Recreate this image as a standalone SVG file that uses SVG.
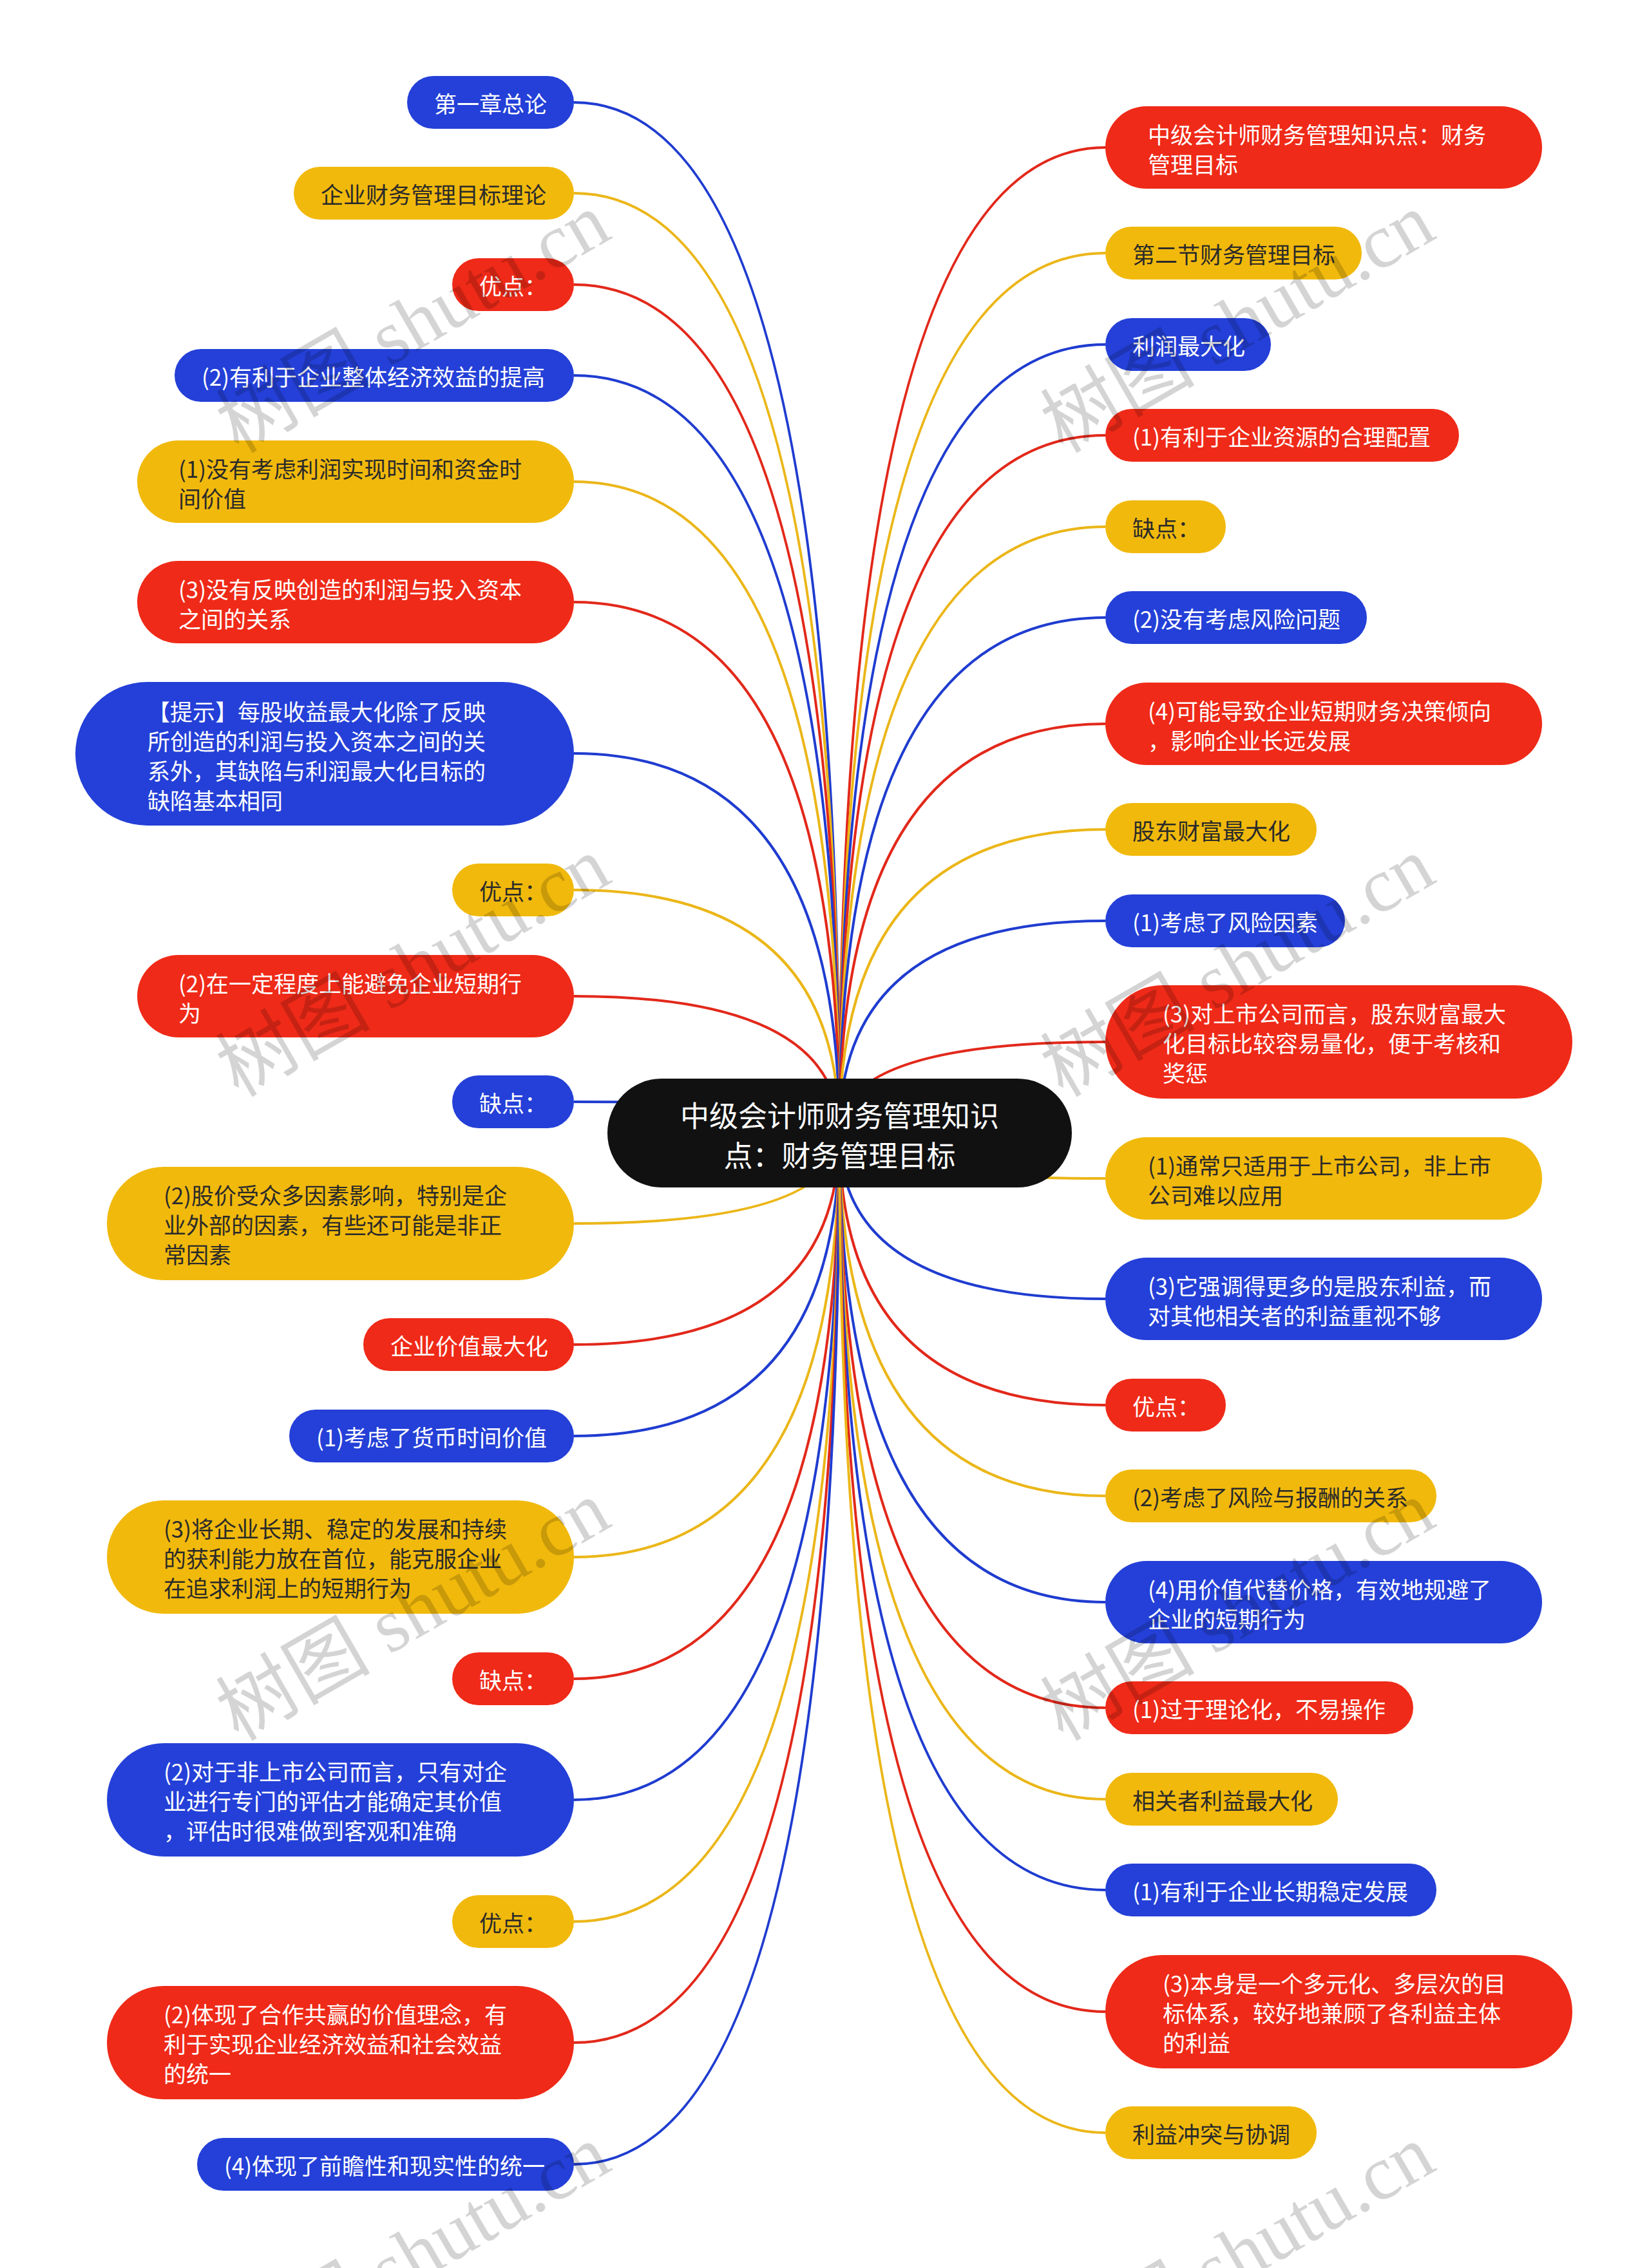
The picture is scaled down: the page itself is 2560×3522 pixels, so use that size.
<svg xmlns="http://www.w3.org/2000/svg" width="2560" height="3522" viewBox="0 0 2560 3522">
<style>
.t{font-family:"Noto Sans CJK SC","Noto Sans",sans-serif;font-size:35px;dominant-baseline:central}
.w{fill:#ffffff}
.d{fill:#2a2a2a}
.b{fill:#2440d8}
.r{fill:#ef2a18}
.y{fill:#f1b90c}
.lb{stroke:#1f3cd0}
.lr{stroke:#e2281a}
.ly{stroke:#ebb618}
#links path{fill:none;stroke-width:4}
.wm{font-family:"Liberation Serif","Noto Sans CJK SC",serif;font-size:120px;fill:#000;fill-opacity:0.17}
</style>
<rect width="2560" height="3522" fill="#ffffff"/>
<g id="links">
<path class="lb" d="M891 159 Q1303 159 1303 1760"/>
<path class="ly" d="M891 300 Q1303 300 1303 1760"/>
<path class="lr" d="M891 442 Q1303 442 1303 1760"/>
<path class="lb" d="M891 583 Q1303 583 1303 1760"/>
<path class="ly" d="M891 748 Q1303 748 1303 1760"/>
<path class="lr" d="M891 935 Q1303 935 1303 1760"/>
<path class="lb" d="M891 1170 Q1303 1170 1303 1760"/>
<path class="ly" d="M891 1382 Q1303 1382 1303 1760"/>
<path class="lr" d="M891 1547 Q1303 1547 1303 1760"/>
<path class="lb" d="M891 1711 Q1303 1711 1303 1760"/>
<path class="ly" d="M891 1900 Q1303 1900 1303 1760"/>
<path class="lr" d="M891 2088 Q1303 2088 1303 1760"/>
<path class="lb" d="M891 2230 Q1303 2230 1303 1760"/>
<path class="ly" d="M891 2418 Q1303 2418 1303 1760"/>
<path class="lr" d="M891 2607 Q1303 2607 1303 1760"/>
<path class="lb" d="M891 2795 Q1303 2795 1303 1760"/>
<path class="ly" d="M891 2984 Q1303 2984 1303 1760"/>
<path class="lr" d="M891 3172 Q1303 3172 1303 1760"/>
<path class="lb" d="M891 3361 Q1303 3361 1303 1760"/>
<path class="lr" d="M1716 229 Q1303 229 1303 1760"/>
<path class="ly" d="M1716 393 Q1303 393 1303 1760"/>
<path class="lb" d="M1716 535 Q1303 535 1303 1760"/>
<path class="lr" d="M1716 676 Q1303 676 1303 1760"/>
<path class="ly" d="M1716 818 Q1303 818 1303 1760"/>
<path class="lb" d="M1716 959 Q1303 959 1303 1760"/>
<path class="lr" d="M1716 1124 Q1303 1124 1303 1760"/>
<path class="ly" d="M1716 1288 Q1303 1288 1303 1760"/>
<path class="lb" d="M1716 1430 Q1303 1430 1303 1760"/>
<path class="lr" d="M1716 1618 Q1303 1618 1303 1760"/>
<path class="ly" d="M1716 1830 Q1303 1830 1303 1760"/>
<path class="lb" d="M1716 2017 Q1303 2017 1303 1760"/>
<path class="lr" d="M1716 2182 Q1303 2182 1303 1760"/>
<path class="ly" d="M1716 2323 Q1303 2323 1303 1760"/>
<path class="lb" d="M1716 2488 Q1303 2488 1303 1760"/>
<path class="lr" d="M1716 2652 Q1303 2652 1303 1760"/>
<path class="ly" d="M1716 2794 Q1303 2794 1303 1760"/>
<path class="lb" d="M1716 2935 Q1303 2935 1303 1760"/>
<path class="lr" d="M1716 3124 Q1303 3124 1303 1760"/>
<path class="ly" d="M1716 3312 Q1303 3312 1303 1760"/>
</g>
<g id="root">
<rect x="943" y="1675" width="721" height="169" rx="84.5" fill="#111111"/>
<text class="t w" x="1303.5" y="1730" text-anchor="middle" style="font-size:45px">中级会计师财务管理知识</text>
<text class="t w" x="1303.5" y="1792" text-anchor="middle" style="font-size:45px">点：财务管理目标</text>
</g>
<g id="L1"><rect class="b" x="632" y="118" width="259" height="82" rx="41"/><text class="t w" x="674" y="159">第一章总论</text></g>
<g id="L2"><rect class="y" x="456" y="259" width="435" height="82" rx="41"/><text class="t d" x="498" y="300">企业财务管理目标理论</text></g>
<g id="L3"><rect class="r" x="702" y="401" width="189" height="82" rx="41"/><text class="t w" x="744" y="442">优点：</text></g>
<g id="L4"><rect class="b" x="271" y="542" width="620" height="82" rx="41"/><text class="t w" x="313" y="583">(2)有利于企业整体经济效益的提高</text></g>
<g id="L5"><rect class="y" x="213" y="684" width="678" height="128" rx="64"/><text class="t d" x="277" y="726">(1)没有考虑利润实现时间和资金时</text><text class="t d" x="277" y="772">间价值</text></g>
<g id="L6"><rect class="r" x="213" y="871" width="678" height="128" rx="64"/><text class="t w" x="277" y="913">(3)没有反映创造的利润与投入资本</text><text class="t w" x="277" y="959">之间的关系</text></g>
<g id="L7"><rect class="b" x="117" y="1059" width="774" height="223" rx="111.5"/><text class="t w" x="229" y="1103">【提示】每股收益最大化除了反映</text><text class="t w" x="229" y="1149">所创造的利润与投入资本之间的关</text><text class="t w" x="229" y="1195">系外，其缺陷与利润最大化目标的</text><text class="t w" x="229" y="1241">缺陷基本相同</text></g>
<g id="L8"><rect class="y" x="702" y="1341" width="189" height="82" rx="41"/><text class="t d" x="744" y="1382">优点：</text></g>
<g id="L9"><rect class="r" x="213" y="1483" width="678" height="128" rx="64"/><text class="t w" x="277" y="1525">(2)在一定程度上能避免企业短期行</text><text class="t w" x="277" y="1571">为</text></g>
<g id="L10"><rect class="b" x="702" y="1670" width="189" height="82" rx="41"/><text class="t w" x="744" y="1711">缺点：</text></g>
<g id="L11"><rect class="y" x="166" y="1812" width="725" height="176" rx="88"/><text class="t d" x="254" y="1854">(2)股价受众多因素影响，特别是企</text><text class="t d" x="254" y="1900">业外部的因素，有些还可能是非正</text><text class="t d" x="254" y="1946">常因素</text></g>
<g id="L12"><rect class="r" x="564" y="2047" width="327" height="82" rx="41"/><text class="t w" x="606" y="2088">企业价值最大化</text></g>
<g id="L13"><rect class="b" x="449" y="2189" width="442" height="82" rx="41"/><text class="t w" x="491" y="2230">(1)考虑了货币时间价值</text></g>
<g id="L14"><rect class="y" x="166" y="2330" width="725" height="176" rx="88"/><text class="t d" x="254" y="2372">(3)将企业长期、稳定的发展和持续</text><text class="t d" x="254" y="2418">的获利能力放在首位，能克服企业</text><text class="t d" x="254" y="2464">在追求利润上的短期行为</text></g>
<g id="L15"><rect class="r" x="702" y="2566" width="189" height="82" rx="41"/><text class="t w" x="744" y="2607">缺点：</text></g>
<g id="L16"><rect class="b" x="166" y="2707" width="725" height="176" rx="88"/><text class="t w" x="254" y="2749">(2)对于非上市公司而言，只有对企</text><text class="t w" x="254" y="2795">业进行专门的评估才能确定其价值</text><text class="t w" x="254" y="2841">，评估时很难做到客观和准确</text></g>
<g id="L17"><rect class="y" x="702" y="2943" width="189" height="82" rx="41"/><text class="t d" x="744" y="2984">优点：</text></g>
<g id="L18"><rect class="r" x="166" y="3084" width="725" height="176" rx="88"/><text class="t w" x="254" y="3126">(2)体现了合作共赢的价值理念，有</text><text class="t w" x="254" y="3172">利于实现企业经济效益和社会效益</text><text class="t w" x="254" y="3218">的统一</text></g>
<g id="L19"><rect class="b" x="306" y="3320" width="585" height="82" rx="41"/><text class="t w" x="348" y="3361">(4)体现了前瞻性和现实性的统一</text></g>
<g id="R1"><rect class="r" x="1716" y="165" width="678" height="128" rx="64"/><text class="t w" x="1782" y="207">中级会计师财务管理知识点：财务</text><text class="t w" x="1782" y="253">管理目标</text></g>
<g id="R2"><rect class="y" x="1716" y="352" width="398" height="82" rx="41"/><text class="t d" x="1758" y="393">第二节财务管理目标</text></g>
<g id="R3"><rect class="b" x="1716" y="494" width="257" height="82" rx="41"/><text class="t w" x="1758" y="535">利润最大化</text></g>
<g id="R4"><rect class="r" x="1716" y="635" width="549" height="82" rx="41"/><text class="t w" x="1758" y="676">(1)有利于企业资源的合理配置</text></g>
<g id="R5"><rect class="y" x="1716" y="777" width="187" height="82" rx="41"/><text class="t d" x="1758" y="818">缺点：</text></g>
<g id="R6"><rect class="b" x="1716" y="918" width="406" height="82" rx="41"/><text class="t w" x="1758" y="959">(2)没有考虑风险问题</text></g>
<g id="R7"><rect class="r" x="1716" y="1060" width="678" height="128" rx="64"/><text class="t w" x="1782" y="1102">(4)可能导致企业短期财务决策倾向</text><text class="t w" x="1782" y="1148">，影响企业长远发展</text></g>
<g id="R8"><rect class="y" x="1716" y="1247" width="328" height="82" rx="41"/><text class="t d" x="1758" y="1288">股东财富最大化</text></g>
<g id="R9"><rect class="b" x="1716" y="1389" width="372" height="82" rx="41"/><text class="t w" x="1758" y="1430">(1)考虑了风险因素</text></g>
<g id="R10"><rect class="r" x="1716" y="1530" width="725" height="176" rx="88"/><text class="t w" x="1805" y="1572">(3)对上市公司而言，股东财富最大</text><text class="t w" x="1805" y="1618">化目标比较容易量化，便于考核和</text><text class="t w" x="1805" y="1664">奖惩</text></g>
<g id="R11"><rect class="y" x="1716" y="1766" width="678" height="128" rx="64"/><text class="t d" x="1782" y="1808">(1)通常只适用于上市公司，非上市</text><text class="t d" x="1782" y="1854">公司难以应用</text></g>
<g id="R12"><rect class="b" x="1716" y="1953" width="678" height="128" rx="64"/><text class="t w" x="1782" y="1995">(3)它强调得更多的是股东利益，而</text><text class="t w" x="1782" y="2041">对其他相关者的利益重视不够</text></g>
<g id="R13"><rect class="r" x="1716" y="2141" width="187" height="82" rx="41"/><text class="t w" x="1758" y="2182">优点：</text></g>
<g id="R14"><rect class="y" x="1716" y="2282" width="514" height="82" rx="41"/><text class="t d" x="1758" y="2323">(2)考虑了风险与报酬的关系</text></g>
<g id="R15"><rect class="b" x="1716" y="2424" width="678" height="128" rx="64"/><text class="t w" x="1782" y="2466">(4)用价值代替价格，有效地规避了</text><text class="t w" x="1782" y="2512">企业的短期行为</text></g>
<g id="R16"><rect class="r" x="1716" y="2611" width="478" height="82" rx="41"/><text class="t w" x="1758" y="2652">(1)过于理论化，不易操作</text></g>
<g id="R17"><rect class="y" x="1716" y="2753" width="361" height="82" rx="41"/><text class="t d" x="1758" y="2794">相关者利益最大化</text></g>
<g id="R18"><rect class="b" x="1716" y="2894" width="514" height="82" rx="41"/><text class="t w" x="1758" y="2935">(1)有利于企业长期稳定发展</text></g>
<g id="R19"><rect class="r" x="1716" y="3036" width="725" height="176" rx="88"/><text class="t w" x="1805" y="3078">(3)本身是一个多元化、多层次的目</text><text class="t w" x="1805" y="3124">标体系，较好地兼顾了各利益主体</text><text class="t w" x="1805" y="3170">的利益</text></g>
<g id="R20"><rect class="y" x="1716" y="3271" width="328" height="82" rx="41"/><text class="t d" x="1758" y="3312">利益冲突与协调</text></g>
<g id="watermark">
<text class="wm" transform="translate(370 705) rotate(-30)">树图 shutu.cn</text>
<text class="wm" transform="translate(370 1705) rotate(-30)">树图 shutu.cn</text>
<text class="wm" transform="translate(370 2705) rotate(-30)">树图 shutu.cn</text>
<text class="wm" transform="translate(370 3705) rotate(-30)">树图 shutu.cn</text>
<text class="wm" transform="translate(1650 705) rotate(-30)">树图 shutu.cn</text>
<text class="wm" transform="translate(1650 1705) rotate(-30)">树图 shutu.cn</text>
<text class="wm" transform="translate(1650 2705) rotate(-30)">树图 shutu.cn</text>
<text class="wm" transform="translate(1650 3705) rotate(-30)">树图 shutu.cn</text>
</g>
</svg>
